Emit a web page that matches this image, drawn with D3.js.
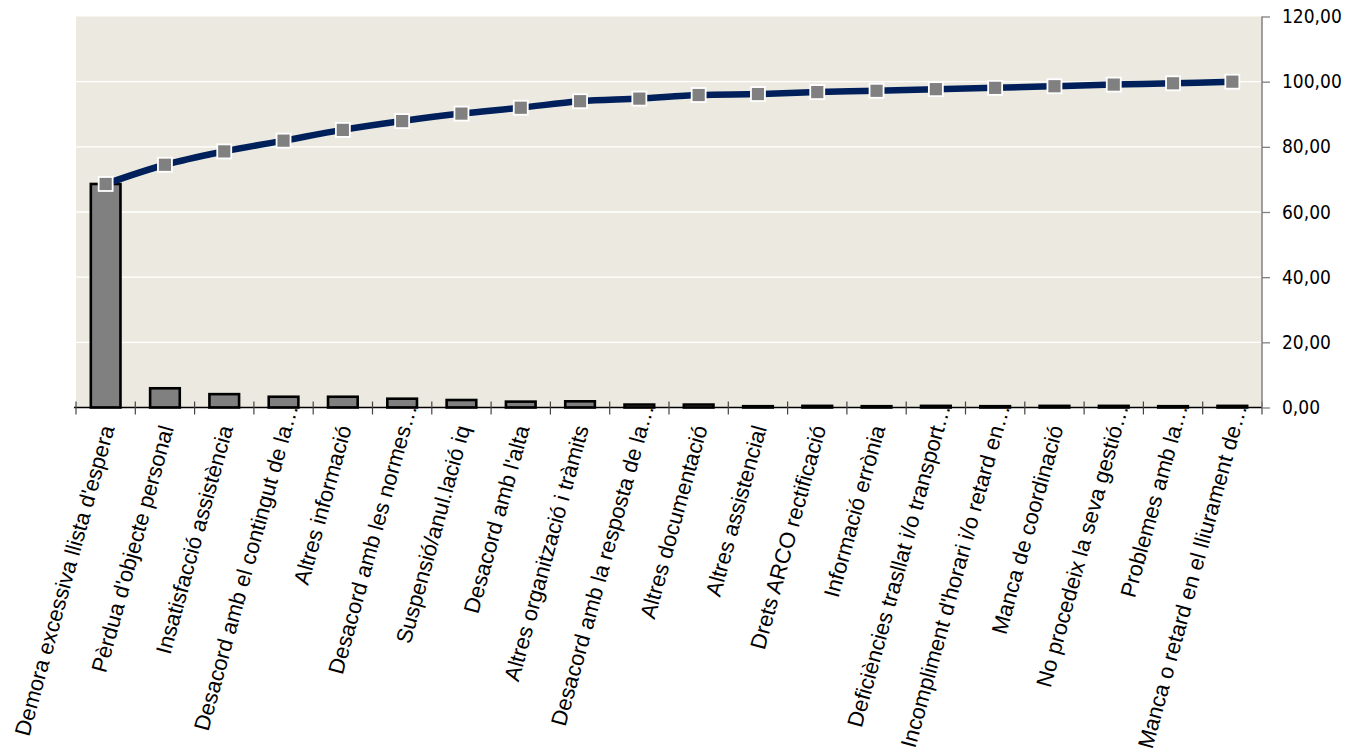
<!DOCTYPE html>
<html>
<head>
<meta charset="utf-8">
<script src="https://cdn.jsdelivr.net/npm/d3@7"></script>
<style>
  html, body { margin: 0; padding: 0; background: #ffffff; }
  svg { display: block; }
</style>
</head>
<body>
<svg id="chart" width="1350" height="755"></svg>
<script>
const categories = [
  "Demora excessiva llista d'espera",
  "Pèrdua d'objecte personal",
  "Insatisfacció assistència",
  "Desacord amb el contingut de la…",
  "Altres informació",
  "Desacord amb les normes…",
  "Suspensió/anul.lació iq",
  "Desacord amb l'alta",
  "Altres organització i tràmits",
  "Desacord amb la resposta de la…",
  "Altres documentació",
  "Altres assistencial",
  "Drets ARCO rectificació",
  "Informació errònia",
  "Deficiències trasllat i/o transport…",
  "Incompliment d'horari i/o retard en…",
  "Manca de coordinació",
  "No procedeix la seva gestió…",
  "Problemes amb la…",
  "Manca o retard en el lliurament de…"
];
const barValues = [68.6, 5.9, 4.1, 3.3, 3.3, 2.7, 2.3, 1.8, 1.9, 0.9, 0.9, 0.4, 0.5, 0.4, 0.5, 0.4, 0.5, 0.5, 0.4, 0.5];
const cumulativeValues = [68.6, 74.5, 78.6, 81.9, 85.2, 87.9, 90.2, 92.0, 94.0, 94.8, 95.9, 96.2, 96.8, 97.2, 97.7, 98.1, 98.6, 99.1, 99.5, 100.0];
const yTicks = [0, 20, 40, 60, 80, 100, 120];

const svg = d3.select("#chart");
const pLeft = 76, pRight = 1262, pTop = 16.5, pBottom = 407.5;

const x = d3.scaleBand().domain(categories).range([pLeft, pRight]).paddingInner(0).paddingOuter(0);
const y = d3.scaleLinear().domain([0, 120]).range([pBottom, pTop]);

// plot background
svg.append("rect").attr("x", pLeft).attr("y", pTop)
  .attr("width", pRight - pLeft).attr("height", pBottom - pTop)
  .attr("fill", "#ECEAE0");

// gridlines
svg.append("g").selectAll("line").data(yTicks.filter(d => d > 0 && d < 120)).join("line")
  .attr("x1", pLeft).attr("x2", pRight)
  .attr("y1", d => y(d)).attr("y2", d => y(d))
  .attr("stroke", "#ffffff").attr("stroke-width", 1.3);

// bars
const barW = x.bandwidth() * 0.50;
svg.append("g").selectAll("rect").data(barValues).join("rect")
  .attr("x", (d, i) => x(categories[i]) + x.bandwidth() / 2 - barW / 2)
  .attr("y", d => y(d))
  .attr("width", barW)
  .attr("height", d => y(0) - y(d))
  .attr("fill", "#808080")
  .attr("stroke", "#000000")
  .attr("stroke-width", 2.6);

// x axis
const xAxis = svg.append("g").attr("transform", `translate(0,${y(0)})`)
  .call(d3.axisBottom(x).tickSize(0).tickFormat(""));
xAxis.select(".domain").attr("stroke", "#000").attr("stroke-width", 1.5)
  .attr("d", `M${pLeft - 2},0H${pRight}`);
// category boundary ticks
const boundaries = categories.map(c => x(c)).concat([pRight]);
svg.append("g").selectAll("line").data(boundaries).join("line")
  .attr("x1", d => d).attr("x2", d => d)
  .attr("y1", y(0) - 6).attr("y2", y(0) + 7)
  .attr("stroke", "#444").attr("stroke-width", 1.2);

// category labels
svg.append("g").selectAll("text").data(categories).join("text")
  .attr("transform", d => `translate(${x(d) + x.bandwidth() / 2 + 9},${428}) rotate(-74.5)`)
  .attr("text-anchor", "end")
  .attr("dx", d => d.endsWith("…") ? "1em" : 0)
  .attr("font-family", "Liberation Sans, Arial, sans-serif")
  .attr("font-size", 22)
  .attr("fill", "#000")
  .text(d => d);

// right axis
const yAxis = svg.append("g").attr("transform", `translate(${pRight},0)`)
  .call(d3.axisRight(y).tickValues(yTicks).tickSize(8).tickPadding(12)
    .tickFormat(d => d3.format(".2f")(d).replace(".", ",")));
yAxis.select(".domain").attr("stroke", "#808080").attr("stroke-width", 1.5)
  .attr("d", `M0,${pTop}V${pBottom}`);
yAxis.selectAll(".tick line").attr("stroke", "#808080").attr("stroke-width", 1.3);
yAxis.selectAll(".tick text")
  .attr("font-family", "DejaVu Sans Condensed, DejaVu Sans, sans-serif")
  .attr("font-size", 19).attr("fill", "#000");

// cumulative line
const line = d3.line()
  .x((d, i) => x(categories[i]) + x.bandwidth() / 2)
  .y(d => y(d))
  .curve(d3.curveCardinal.tension(0));
svg.append("path").datum(cumulativeValues)
  .attr("d", line)
  .attr("fill", "none")
  .attr("stroke", "#00205B")
  .attr("stroke-width", 6.5);

// markers
const ms = 14;
svg.append("g").selectAll("rect").data(cumulativeValues).join("rect")
  .attr("x", (d, i) => x(categories[i]) + x.bandwidth() / 2 - ms / 2)
  .attr("y", d => y(d) - ms / 2)
  .attr("width", ms).attr("height", ms)
  .attr("fill", "#808080")
  .attr("stroke", "#ffffff").attr("stroke-width", 1.8);
</script>
</body>
</html>
